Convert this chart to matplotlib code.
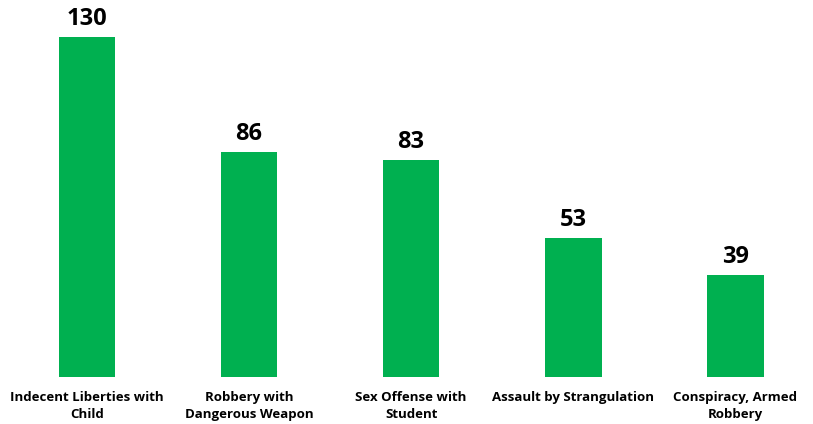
import matplotlib
matplotlib.use("Agg")
import matplotlib.pyplot as plt
import numpy as np

categories = ["Indecent Liberties with\nChild", "Robbery with\nDangerous Weapon",
              "Sex Offense with\nStudent", "Assault by Strangulation",
              "Conspiracy, Armed\nRobbery"]
values = [130, 86, 83, 53, 39]


def main():
    plt.rcParams['font.family'] = ['Open Sans', 'DejaVu Sans']
    fig = plt.figure(figsize=(8.13, 4.24), dpi=100)
    ax = fig.add_axes([0, (424 - 377) / 424, 1, 377 / 424])

    x = np.arange(len(values))
    bars = ax.bar(x, values, width=0.35, color="#00B050")
    for b, v in zip(bars, values):
        ax.text(b.get_x() + b.get_width() / 2, v + 2.3, str(v), ha="center", va="bottom",
                fontsize=17, fontweight="bold", color="#000000")

    ax.set_xlim(-0.537, 4.48)
    ax.set_ylim(0, 144.2)
    ax.set_xticks(x)
    ax.set_xticklabels(categories, fontsize=9.5, fontweight="bold", linespacing=1.45)
    ax.tick_params(axis="x", length=0, pad=10)
    ax.set_yticks([])
    for s in ax.spines.values():
        s.set_visible(False)

    fig.savefig("out.png", dpi=100)


if __name__ == '__main__':
    main()
